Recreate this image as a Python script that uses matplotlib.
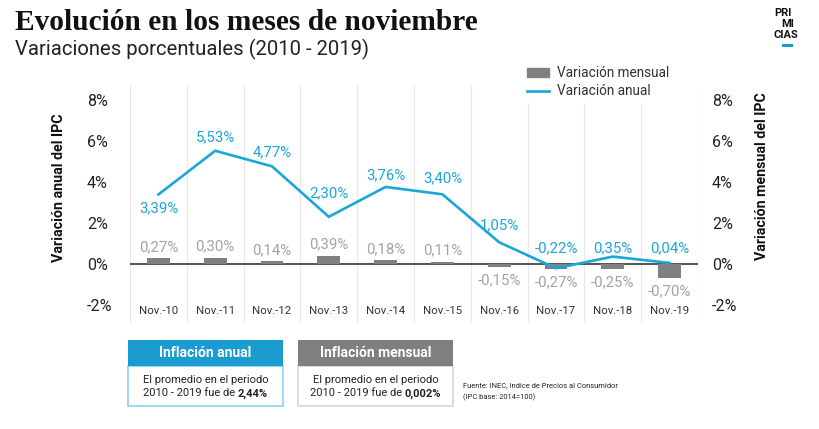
import matplotlib
matplotlib.use("Agg")
import matplotlib.pyplot as plt
from matplotlib.patches import Rectangle
from matplotlib.lines import Line2D

# ============================================================
# DATA
# ============================================================
MONTHS = ["Nov.-10", "Nov.-11", "Nov.-12", "Nov.-13", "Nov.-14",
          "Nov.-15", "Nov.-16", "Nov.-17", "Nov.-18", "Nov.-19"]
ANUAL = [3.39, 5.53, 4.77, 2.30, 3.76, 3.40, 1.05, -0.22, 0.35, 0.04]
MENSUAL = [0.27, 0.30, 0.14, 0.39, 0.18, 0.11, -0.15, -0.27, -0.25, -0.70]
Y_TICKS = [-2, 0, 2, 4, 6, 8]
Y_TICK_LABELS = ["-2%", "0%", "2%", "4%", "6%", "8%"]

# ============================================================
# STYLE
# ============================================================
W, H = 820, 429
BLUE = "#1ba6da"
BLUE_HEAD = "#1a9cd0"
GRAY_BAR = "#808080"
GRAY_LABEL = "#a3a3a3"
GRAY_HEAD = "#7f7f7f"
SANS = ["Roboto", "DejaVu Sans"]
plt.rcParams["font.family"] = SANS

# pixel offsets for the annual labels (negative = below the point)
ANUAL_OFFSETS = [-14, 13, 14, 23, 12, 16, 17, None, None, None]
LOW_LABEL_Y = 0.75  # labels of the flat tail sit on one row


def fmt(v):
    return f"{v:.2f}".replace(".", ",") + "%"


def fx(px):
    return px / W


def fy(py):
    return 1 - py / H


def main():
    fig = plt.figure(figsize=(W / 100, H / 100), dpi=100)
    ax = fig.add_axes([fx(130), fy(323), fx(698) - fx(130), fy(85) - fy(323)])
    x = list(range(len(MONTHS)))

    ax.set_xlim(-0.5, len(MONTHS) - 0.5)
    ax.set_ylim(-2.9, 8.75)
    for s in ax.spines.values():
        s.set_visible(False)

    # category separators
    for b in range(len(MONTHS) + 1):
        ax.axvline(b - 0.5, color="#e8e8e8", lw=0.9, zorder=0)
    ax.axhline(0, color="#555555", lw=1.4, zorder=2)

    ax.bar(x, MENSUAL, width=0.4, color=GRAY_BAR, zorder=3)
    ax.plot(x, ANUAL, color=BLUE, lw=1.9, zorder=4, solid_joinstyle="miter")

    # bar labels
    for xi, v in zip(x, MENSUAL):
        off = 11 if v >= 0 else -13
        ax.annotate(fmt(v), (xi, v), xytext=(0, off * 0.72),
                    textcoords="offset points", ha="center", va="center",
                    color=GRAY_LABEL, fontsize=10.8, zorder=5)

    # line labels
    for xi, v, off in zip(x, ANUAL, ANUAL_OFFSETS):
        if off is None:
            ax.text(xi, LOW_LABEL_Y, fmt(v), ha="center", va="center",
                    color=BLUE, fontsize=10.8, zorder=5)
        else:
            ax.annotate(fmt(v), (xi, v), xytext=(0, off * 0.72),
                        textcoords="offset points", ha="center", va="center",
                        color=BLUE, fontsize=10.8, zorder=5)

    # month labels inside plot
    ax.set_xticks([])
    for xi, m in zip(x, MONTHS):
        ax.text(xi, -2.3, m, ha="center", va="center", fontsize=8.2,
                color="#333333")

    # left axis
    ax.set_yticks(Y_TICKS)
    ax.set_yticklabels(Y_TICK_LABELS)
    ax.tick_params(axis="y", length=0, pad=31, labelsize=11.5,
                   labelcolor="#222222")
    for lab in ax.get_yticklabels():
        lab.set_ha("left")

    # right axis (same scale)
    ax2 = ax.twinx()
    ax2.set_ylim(ax.get_ylim())
    for s in ax2.spines.values():
        s.set_visible(False)
    ax2.set_yticks(Y_TICKS)
    ax2.set_yticklabels(Y_TICK_LABELS)
    ax2.tick_params(axis="y", length=0, pad=10, labelsize=11.5,
                    labelcolor="#222222")

    fig.text(fx(59), fy(188), "Variación anual del IPC", rotation=90,
             ha="center", va="center", fontsize=10.3, fontweight="bold",
             color="#111111")
    fig.text(fx(762), fy(176), "Variación mensual del IPC", rotation=90,
             ha="center", va="center", fontsize=10.2, fontweight="bold",
             color="#111111")

    # legend
    handles = [Rectangle((0, 0), 1, 1, color=GRAY_BAR),
               Line2D([0], [0], color=BLUE, lw=1.9)]
    leg = fig.legend(handles, ["Variación mensual", "Variación anual"],
                     loc="upper left", bbox_to_anchor=(fx(523), fy(62)),
                     frameon=True, fontsize=9.8, handlelength=1.6,
                     handleheight=0.6, handletextpad=0.6, labelspacing=0.3,
                     borderpad=0.3, borderaxespad=0)
    leg.get_frame().set_facecolor("white")
    leg.get_frame().set_edgecolor("white")
    leg.get_frame().set_alpha(1)
    for t in leg.get_texts():
        t.set_color("#333333")

    # titles
    fig.text(fx(15), fy(23), "Evolución en los meses de noviembre",
             family=["Liberation Serif", "DejaVu Serif"], fontweight="bold",
             fontsize=21.2, va="center", ha="left", color="#111111")
    fig.text(fx(15), fy(49), "Variaciones porcentuales (2010 - 2019)",
             fontsize=14.6, va="center", ha="left", color="#222222")

    # logo
    for txt, px, py in [("PRI", 774, 13), ("MI", 781, 24), ("CIAS", 774, 35)]:
        fig.text(fx(px), fy(py), txt, fontsize=8, fontweight="bold",
                 va="center", ha="left", color="#111111")
    fig.add_artist(Rectangle((fx(782), fy(46.5)), fx(11), 2.5 / H,
                             transform=fig.transFigure, color=BLUE_HEAD,
                             lw=0))

    # bottom boxes
    renderer = fig.canvas.get_renderer()

    def info_box(x0, x1, head, head_color, border, value):
        fig.add_artist(Rectangle((fx(x0), fy(406)), fx(x1 - x0), 40 / H,
                                 transform=fig.transFigure, facecolor="white",
                                 edgecolor=border, lw=1.2))
        fig.add_artist(Rectangle((fx(x0), fy(366)), fx(x1 - x0), 26 / H,
                                 transform=fig.transFigure,
                                 facecolor=head_color, lw=0))
        cx = (x0 + x1) / 2
        fig.text(fx(cx), fy(353), head, ha="center", va="center",
                 fontsize=10, fontweight="bold", color="white")
        fig.text(fx(cx), fy(380), "El promedio en el periodo", ha="center",
                 va="center", fontsize=8, color="#222222")
        t1 = fig.text(0, fy(393.5), "2010 - 2019 fue de ", ha="left",
                      va="center", fontsize=8, color="#222222")
        t2 = fig.text(0, fy(393.5), value, ha="left", va="center",
                      fontsize=8, fontweight="bold", color="#222222")
        w1 = t1.get_window_extent(renderer).width
        w2 = t2.get_window_extent(renderer).width
        start = cx - (w1 + w2) / 2
        t1.set_x(fx(start))
        t2.set_x(fx(start + w1))

    info_box(128, 283, "Inflación anual", BLUE_HEAD, "#8fd0ec", "2,44%")
    info_box(298, 453, "Inflación mensual", GRAY_HEAD, "#d6d6d6", "0,002%")

    fig.text(fx(463), fy(386), "Fuente: INEC, Indice de Precios al Consumidor",
             fontsize=5.4, va="center", ha="left", color="#222222")
    fig.text(fx(463), fy(397), "(IPC base: 2014=100)",
             fontsize=5.4, va="center", ha="left", color="#222222")

    fig.savefig("out.png", dpi=100, facecolor="white")


if __name__ == "__main__":
    main()
